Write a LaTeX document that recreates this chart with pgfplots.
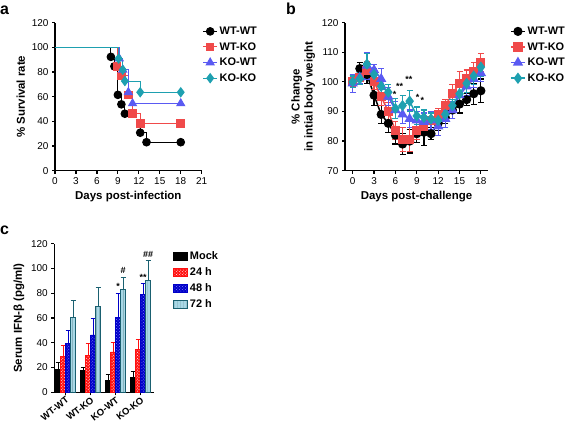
\documentclass[border=0pt]{standalone}
\usepackage{pgfplots}
\pgfplotsset{compat=1.18}
\usepackage{pgfplotstable}
\usetikzlibrary{patterns}
\usepackage{fontspec}
\setmainfont{Liberation Sans}

\definecolor{cred}{HTML}{F04A4A}
\definecolor{cblue}{HTML}{5A5AF2}
\definecolor{cteal}{HTML}{1EA0B0}
\definecolor{bred}{HTML}{FF1010}
\definecolor{bblue}{HTML}{0000C8}
\definecolor{blight}{HTML}{A8D8E6}
\definecolor{bdark}{HTML}{1A6070}

\pgfplotstableread{
day ww wwe wk wke kw kwe kk kke
0 100 2 100 1.5 99.5 3 100 2
1 104.5 2 101.5 2 101.5 2 101 2
2 102.5 3 104 3 105.5 4.5 106 3.5
3 95.5 3.5 100 2.5 104 2 102.5 2
4 89 3 95 3 101 3.5 98.5 2
5 86 3 90 3 95 3 96.5 2.5
6 82 3 83.5 3 90.5 3 91 3.5
7 79 3.5 80.5 4 89 3 92 3.5
8 80 4 80.5 4 87.5 3 93.5 3.5
9 82.5 3 83.5 3 87 3 88.5 3
10 83 4.5 85 3 86.5 3 88 2.5
11 82.5 2 87 3 87 3 87.5 2
12 86 2.5 89 2 85 3 87 2
13 88 2 92 2 87.5 3 89 2
14 90.5 3 96 3 90.5 3 92 2
15 92.5 3 99.5 4 95.5 3 96 2.5
16 94 2 101 3 98.5 3 99.5 3
17 96 3.5 103.5 3 101 3 102 3
18 97 4 106.5 3 103 3 105 3
}\weight

\pgfplotstableread{
x m me a ae b be c ce
0 18.8 5.4 28.8 9.1 39.5 10.8 60.5 13.8
1 17.8 2.6 29.9 9.9 46.3 12.9 69.4 15.3
2 9.4 4.6 32.6 7.8 60.3 19.3 83.1 10.0
3 12.1 4.6 34.7 7.8 79.1 8.6 90.1 16.4
}\ifn

\pgfplotsset{
  gp/.style={
    scale only axis,
    axis x line*=bottom, axis y line*=left,
    axis line style={line width=1.2pt, -},
    tick align=outside,
    major tick length=3bp,
    every tick/.style={line width=1.2pt, black},
    tick label style={font=\fontsize{10}{12}\selectfont},
    /pgf/number format/assume math mode=true,
    label style={font=\fontsize{11.5}{13}\selectfont\bfseries},
    legend style={draw=none, fill=none, font=\fontsize{11}{13}\selectfont\bfseries, legend cell align=left, row sep=2.5bp},
    legend image code/.code={\draw[##1, mark=none] (0bp,0bp) -- (14bp,0bp); \draw[##1] plot coordinates {(7bp,0bp)};},
    clip=false,
  },
  km/.style={const plot mark left, line width=1pt, mark size=3.8bp, mark options={solid}, forget plot},
  wl/.style={line width=1.5pt, mark size=3.8bp,
    error bars/y dir=both, error bars/y explicit,
    error bars/error bar style={line width=1.2pt},
    error bars/error mark options={rotate=90, line width=1.2pt, mark size=3bp}},
  cb/.style={error bars/y dir=plus, error bars/y explicit,
    error bars/error bar style={line width=1pt, #1},
    error bars/error mark options={rotate=90, line width=1pt, mark size=2.5bp, #1}},
  barleg/.style={legend image code/.code={\draw[##1] (0bp,-4bp) rectangle (14bp,4bp);}},
}

\begin{document}
\begin{tikzpicture}
\useasboundingbox (0,0) rectangle (567bp,430bp);

\node[font=\fontsize{16}{16}\selectfont\bfseries, anchor=base west, inner sep=0] at (0bp,415bp) {a};
\node[font=\fontsize{16}{16}\selectfont\bfseries, anchor=base west, inner sep=0] at (286bp,415bp) {b};
\node[font=\fontsize{16}{16}\selectfont\bfseries, anchor=base west, inner sep=0] at (0bp,195bp) {c};

% ---------------- panel a
\begin{axis}[gp, at={(55bp,259.3bp)}, anchor=south west, width=146.7bp, height=148bp,
  xmin=0, xmax=21, ymin=0, ymax=120, xtick={0,3,...,21}, ytick={0,20,...,120},
  xlabel={Days post-infection}, ylabel={\% Survival rate},
  legend style={at={(0.985,1.0)}, anchor=north west}]
\addplot[km, black, mark=*, mark indices={2,3,4,5,6,7,8,9}] coordinates {(0,100)(8,92.3)(8.5,84.6)(9,61.5)(9.5,53.8)(10,46.2)(12.2,30.8)(13.1,23.1)(18,23.1)};
\addplot[km, cred, mark=square*, mark indices={2,3,4,5,6,7}] coordinates {(0,100)(8.9,84.6)(9.5,76.9)(10.5,61.5)(11.1,46.2)(12.2,38.5)(18,38.5)};
\addplot[km, cblue, mark=triangle*, mark size=4.5bp, mark indices={2,3,4,5,6}] coordinates {(0,100)(9.2,90.9)(9.7,81.8)(10.5,63.6)(11.1,54.5)(18,54.5)};
\addplot[km, cteal, mark=diamond*, mark size=4.5bp, mark indices={2,3,4,5,6}] coordinates {(0,100)(9.1,90.9)(9.7,81.8)(10,72.7)(12.2,63.6)(18,63.6)};
\addlegendimage{black, line width=1pt, mark=*, mark size=3.8bp}
\addlegendentry{WT-WT}
\addlegendimage{cred, line width=1pt, mark=square*, mark size=3.8bp}
\addlegendentry{WT-KO}
\addlegendimage{cblue, line width=1pt, mark=triangle*, mark size=4.5bp}
\addlegendentry{KO-WT}
\addlegendimage{cteal, line width=1pt, mark=diamond*, mark size=4.5bp}
\addlegendentry{KO-KO}
\end{axis}

% ---------------- panel b
\begin{axis}[gp, at={(345bp,259.3bp)}, anchor=south west, width=143bp, height=148bp,
  xmin=-1.08, xmax=19, ymin=70, ymax=120, xtick={0,3,...,18}, ytick={70,80,...,120},
  xlabel={Days post-challenge}, ylabel={\% Change\\in intial body weight}, ylabel style={align=center},
  legend style={at={(1.133,1.0)}, anchor=north west}]
\addplot[wl, black, mark=*] table[x=day, y=ww, y error=wwe] {\weight};
\addplot[wl, cred, mark=square*] table[x=day, y=wk, y error=wke] {\weight};
\addplot[wl, cblue, mark=triangle*, mark size=4.5bp] table[x=day, y=kw, y error=kwe] {\weight};
\addplot[wl, cteal, mark=diamond*, mark size=4.5bp] table[x=day, y=kk, y error=kke] {\weight};
\legend{WT-WT, WT-KO, KO-WT, KO-KO}
\node[font=\fontsize{9}{9}\selectfont\bfseries] at (axis cs:5.9,95.8) {*};
\node[font=\fontsize{9}{9}\selectfont\bfseries] at (axis cs:6.6,98.6) {**};
\node[font=\fontsize{9}{9}\selectfont\bfseries] at (axis cs:7.9,101) {**};
\node[font=\fontsize{9}{9}\selectfont\bfseries] at (axis cs:9.1,94.8) {*};
\node[font=\fontsize{9}{9}\selectfont\bfseries] at (axis cs:9.8,93.9) {*};
\end{axis}

% ---------------- panel c
\begin{axis}[gp, at={(54.3bp,37.7bp)}, anchor=south west, width=99.7bp, height=148.6bp,
  xmin=-0.45, xmax=3.54, ymin=0, ymax=120, ytick={0,20,...,120},
  xtick={0,1,2,3}, xticklabels={WT-WT,WT-KO,KO-WT,KO-KO},
  xticklabel style={rotate=38, anchor=north east, inner sep=0.5bp, font=\fontsize{9.5}{11}\selectfont\bfseries},
  ylabel={Serum IFN-β (pg/ml)},
  ybar, bar width=5bp,
  legend style={at={(1.16,0.975)}, anchor=north west}]
\addplot[barleg, bar shift=-7.5bp, draw=black, fill=black, cb=black] table[x=x, y=m, y error=me] {\ifn};
\addplot[barleg, bar shift=-2.5bp, draw=bred, fill=bred, postaction={pattern=crosshatch dots, pattern color=white}, cb=bred] table[x=x, y=a, y error=ae] {\ifn};
\addplot[barleg, bar shift=2.5bp, draw=bblue, fill=bblue, postaction={pattern=crosshatch dots, pattern color=blue!50!white}, cb=bblue] table[x=x, y=b, y error=be] {\ifn};
\addplot[barleg, bar shift=7.5bp, draw=bdark, line width=0.8pt, fill=blight, postaction={pattern=vertical lines, pattern color=bdark!60!white}, cb=bdark] table[x=x, y=c, y error=ce] {\ifn};
\legend{Mock, 24 h, 48 h, 72 h}
\node[font=\fontsize{9}{9}\selectfont\bfseries] at (axis cs:2.1,85.3) {*};
\node[font=\fontsize{9}{9}\selectfont\bfseries] at (axis cs:2.3,98.8) {\#};
\node[font=\fontsize{9}{9}\selectfont\bfseries] at (axis cs:3.1,92.5) {**};
\node[font=\fontsize{9}{9}\selectfont\bfseries] at (axis cs:3.3,111.4) {\#\#};
\end{axis}
\end{tikzpicture}
\end{document}
